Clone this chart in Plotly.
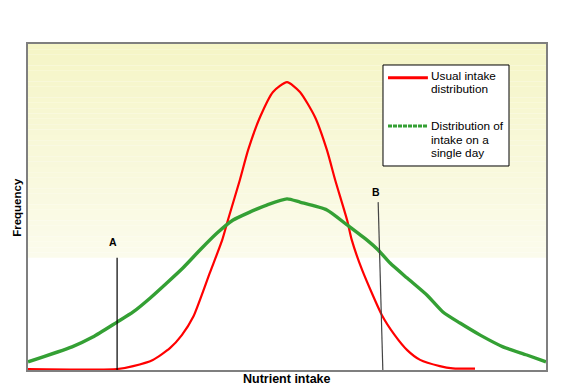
import plotly.graph_objects as go

# Nutrient intake (arbitrary units, 0-100) and frequency (arbitrary units, 0-100)
usual_x = [0, 17.2, 20.3, 24.1, 27.4, 29.7, 31.9, 35.1, 37.5, 38.6, 40.9, 42.5, 44.8, 47.3, 50.0,
           52.5, 55.4, 57.7, 59.3, 61.6, 62.5, 64.5, 68.3, 70.8, 73.2, 75.7, 79.5, 82.0, 86.3]
usual_y = [0.3, 0.3, 1.2, 3.1, 6.7, 10.7, 16.3, 29.8, 39.9, 46.0, 58.3, 67.5, 77.6, 85.3, 88.3,
           85.3, 77.6, 67.5, 58.3, 46.0, 39.9, 30.7, 16.9, 10.7, 6.1, 3.1, 1.2, 0.5, 0.4]

day_x = [0, 8.5, 12.5, 17.2, 20.3, 23.6, 26.8, 29.9, 33.2, 36.5, 39.6, 42.9, 46.1, 50.0,
         52.5, 57.7, 61.6, 65.4, 67.6, 69.9, 73.2, 77.0, 80.1, 83.4, 87.3, 91.7, 96.3, 100]
day_y = [2.5, 7.1, 10.1, 14.7, 17.8, 22.1, 26.7, 31.3, 36.8, 42.0, 46.0, 48.5, 50.6, 52.5,
         51.5, 49.1, 44.5, 39.9, 36.8, 32.8, 28.2, 23.0, 17.8, 14.4, 10.7, 7.1, 4.6, 2.5]

# Cut-off markers
a_x = [17.2, 17.2]
a_y = [0, 34.4]
b_x = [68.5, 67.6]
b_y = [0, 51.5]

# Legend texts
usual_label = ["Usual intake", "distribution"]
day_label = ["Distribution of", "intake on a", "single day"]

RED = "#ff0000"
GREEN = "#34a034"

fig = go.Figure()
fig.add_trace(go.Scatter(x=usual_x, y=usual_y, mode="lines",
                         line=dict(color=RED, width=2.2, shape="spline", smoothing=0.6),
                         name=" ".join(usual_label), showlegend=False))
fig.add_trace(go.Scatter(x=day_x, y=day_y, mode="lines",
                         line=dict(color=GREEN, width=3.4, shape="spline", smoothing=0.6),
                         name=" ".join(day_label), showlegend=False))
fig.add_trace(go.Scatter(x=a_x, y=a_y, mode="lines", line=dict(color="#000000", width=1.2),
                         showlegend=False, hoverinfo="skip"))
fig.add_trace(go.Scatter(x=b_x, y=b_y, mode="lines", line=dict(color="#444444", width=1.2),
                         showlegend=False, hoverinfo="skip"))

# background gradient (pale yellow fading to white)
shapes = []
top_c = (245, 245, 198)
bot_c = (251, 251, 236)
n = 40
y_start, y_end = 0.344, 1.0
for i in range(n):
    t = i / (n - 1)
    c = tuple(round(bot_c[k] + (top_c[k] - bot_c[k]) * t) for k in range(3))
    y0 = y_start + (y_end - y_start) * i / n
    y1 = y_start + (y_end - y_start) * (i + 1) / n
    shapes.append(dict(type="rect", xref="paper", yref="paper", x0=0, x1=1, y0=y0, y1=y1,
                       fillcolor="rgb(%d,%d,%d)" % c, line=dict(width=0), layer="below"))

# legend box and samples
shapes.append(dict(type="rect", xref="paper", yref="paper", x0=0.6853, x1=0.9286,
                   y0=0.6258, y1=0.9356, fillcolor="white",
                   line=dict(color="#000000", width=1), layer="above"))
shapes.append(dict(type="line", xref="paper", yref="paper", x0=0.695, x1=0.772,
                   y0=0.8966, y1=0.8966, line=dict(color=RED, width=3), layer="above"))
shapes.append(dict(type="line", xref="paper", yref="paper", x0=0.695, x1=0.772,
                   y0=0.7485, y1=0.7485, line=dict(color=GREEN, width=3, dash="4px,1px"),
                   layer="above"))

annotations = [
    dict(text="<b>Frequency</b>", xref="paper", yref="paper", x=-0.037, y=0.5,
         textangle=-90, showarrow=False, font=dict(size=11.5)),
    dict(text="<b>Nutrient intake</b>", xref="paper", yref="paper", x=0.5, y=-0.0276,
         showarrow=False, font=dict(size=12.5), yanchor="middle"),
    dict(text="<b>A</b>", x=16.5, y=39.3, xref="x", yref="y", showarrow=False,
         font=dict(size=10.5)),
    dict(text="<b>B</b>", x=67.2, y=54.6, xref="x", yref="y", showarrow=False,
         font=dict(size=10.5)),
]
legend_px = [75.5, 89, 126, 139.5, 153]
for txt, py in zip(usual_label + day_label, legend_px):
    annotations.append(dict(text=txt, xref="paper", yref="paper", x=0.776,
                            y=(370 - py) / 326.0,
                            xanchor="left", yanchor="middle", showarrow=False,
                            borderpad=0, font=dict(size=11.8)))

fig.update_layout(
    width=559, height=382,
    margin=dict(l=20, r=21, t=36, b=20),
    paper_bgcolor="white", plot_bgcolor="white",
    shapes=shapes,
    font=dict(family="Liberation Sans, Arial, sans-serif", size=11, color="#000000"),
    xaxis=dict(range=[0, 100], showgrid=False, zeroline=False, showticklabels=False, ticks="",
               showline=True, mirror=True, linecolor="#7f7f7f", linewidth=1.5),
    yaxis=dict(range=[0, 100], showgrid=False, zeroline=False, showticklabels=False, ticks="",
               showline=True, mirror=True, linecolor="#7f7f7f", linewidth=1.5),
    showlegend=False,
    annotations=annotations,
)

fig.write_html("out.html")
